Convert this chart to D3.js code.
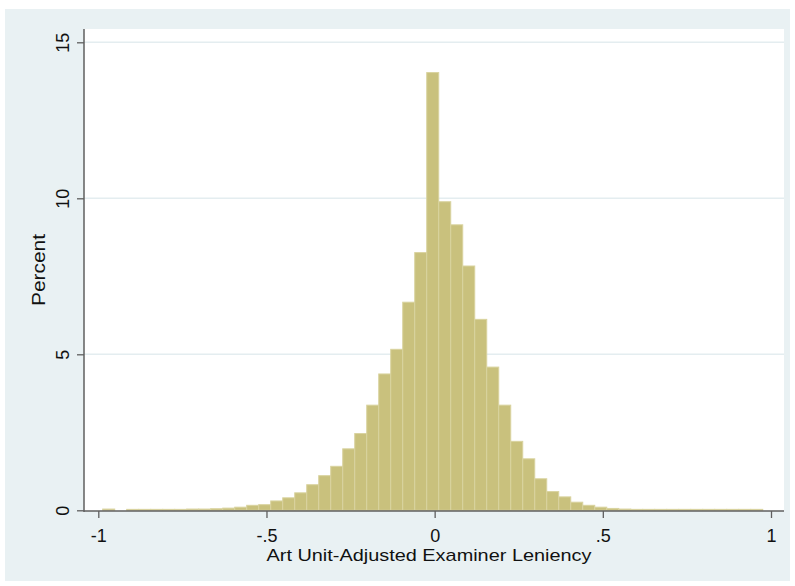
<!DOCTYPE html>
<html>
<head>
<meta charset="utf-8">
<script src="https://cdn.jsdelivr.net/npm/d3@7"></script>
<style>
  html, body { margin: 0; padding: 0; background: #fff; }
  svg { display: block; font-family: "Liberation Sans", Arial, sans-serif; }
</style>
</head>
<body>
<div id="chart"></div>
<script>
// histogram bins: first edge and width (in leniency units)
const binStart = -0.9869;
const binWidth = 0.03568;
// percent of observations per bin, left to right
const percents = [
  0.04, 0, 0.03, 0.03, 0.03, 0.03, 0.03, 0.04, 0.04, 0.05,
  0.07, 0.10, 0.16, 0.18, 0.30, 0.40, 0.56, 0.82, 1.11, 1.41,
  1.97, 2.46, 3.37, 4.37, 5.16, 6.67, 8.26, 14.03, 9.89, 9.15,
  7.83, 6.12, 4.59, 3.37, 2.21, 1.65, 1.01, 0.60, 0.43, 0.26,
  0.16, 0.10, 0.06, 0.04, 0.03, 0.03, 0.03, 0.03, 0.03, 0.03,
  0.03, 0.03, 0.03, 0.03, 0.03
];
const xTicks = [-1, -0.5, 0, 0.5, 1];
const xTickLabels = ['-1', '-.5', '0', '.5', '1'];
const yTicks = [0, 5, 10, 15];
const yGrid = [5, 10, 15];

const W = 795, H = 586;
const bg = '#e9f1f3';
const plot = { left: 84, right: 784, top: 29, bottom: 511 };

const svg = d3.select('#chart').append('svg')
  .attr('width', W).attr('height', H);

// graph region
svg.append('rect')
  .attr('x', 5).attr('y', 9)
  .attr('width', 785).attr('height', 572)
  .attr('fill', bg);

// plot region
svg.append('rect')
  .attr('x', plot.left).attr('y', plot.top)
  .attr('width', plot.right - plot.left)
  .attr('height', plot.bottom - plot.top)
  .attr('fill', '#fff');

const x = d3.scaleLinear().domain([-1, 1]).range([98.3, 771]);
const y = d3.scaleLinear().domain([0, 15]).range([510.3, 42.3]);

// gridlines
svg.append('g').selectAll('line')
  .data(yGrid)
  .join('line')
  .attr('x1', plot.left).attr('x2', plot.right)
  .attr('y1', d => y(d)).attr('y2', d => y(d))
  .attr('stroke', '#e4edf0')
  .attr('stroke-width', 1.5);

// bars
const bins = percents.map((v, i) => ({
  x0: binStart + i * binWidth,
  x1: binStart + (i + 1) * binWidth,
  v
})).filter(d => d.v > 0);

svg.append('g').selectAll('rect')
  .data(bins)
  .join('rect')
  .attr('x', d => x(d.x0))
  .attr('width', d => x(d.x1) - x(d.x0))
  .attr('y', d => y(d.v))
  .attr('height', d => y(0) - y(d.v))
  .attr('fill', '#c9c17d')
  .attr('stroke', '#d9d39f')
  .attr('stroke-width', 1);

// axes
const axisColor = '#5f5f5f';
const xAxis = d3.axisBottom(x)
  .tickValues(xTicks)
  .tickFormat((d, i) => xTickLabels[i])
  .tickSize(7)
  .tickSizeOuter(0);
const gx = svg.append('g')
  .attr('transform', `translate(0,${plot.bottom})`)
  .call(xAxis);
gx.select('.domain').remove();
gx.append('line')
  .attr('x1', plot.left).attr('x2', plot.right)
  .attr('stroke', axisColor).attr('stroke-width', 1.5);
gx.selectAll('.tick line').attr('stroke', axisColor).attr('stroke-width', 1.3);
gx.selectAll('.tick text')
  .attr('y', 31).attr('dy', 0)
  .attr('fill', '#111')
  .attr('font-size', 18)
  .attr('font-family', '"Liberation Sans", Arial, sans-serif');

const yAxis = d3.axisLeft(y)
  .tickValues(yTicks)
  .tickFormat(d3.format('d'))
  .tickSize(7)
  .tickSizeOuter(0);
const gy = svg.append('g')
  .attr('transform', `translate(${plot.left},0)`)
  .call(yAxis);
gy.select('.domain').remove();
gy.append('line')
  .attr('y1', plot.top).attr('y2', plot.bottom + 1)
  .attr('stroke', axisColor).attr('stroke-width', 1.5);
gy.selectAll('.tick line').attr('stroke', axisColor).attr('stroke-width', 1.3);
gy.selectAll('.tick text')
  .attr('x', 0).attr('dy', 0)
  .attr('transform', 'translate(-15,0) rotate(-90)')
  .attr('text-anchor', 'middle')
  .attr('fill', '#111')
  .attr('font-size', 18)
  .attr('font-family', '"Liberation Sans", Arial, sans-serif');

// axis titles
svg.append('text')
  .attr('x', (plot.left + plot.right) / 2 - 5)
  .attr('y', 561)
  .attr('text-anchor', 'middle')
  .attr('font-size', 17)
  .attr('fill', '#111')
  .attr('textLength', 325)
  .attr('lengthAdjust', 'spacingAndGlyphs')
  .text('Art Unit-Adjusted Examiner Leniency');

svg.append('text')
  .attr('transform', `translate(45,${(plot.top + plot.bottom) / 2}) rotate(-90)`)
  .attr('text-anchor', 'middle')
  .attr('font-size', 18)
  .attr('fill', '#111')
  .attr('textLength', 72)
  .attr('lengthAdjust', 'spacingAndGlyphs')
  .text('Percent');
</script>
</body>
</html>
